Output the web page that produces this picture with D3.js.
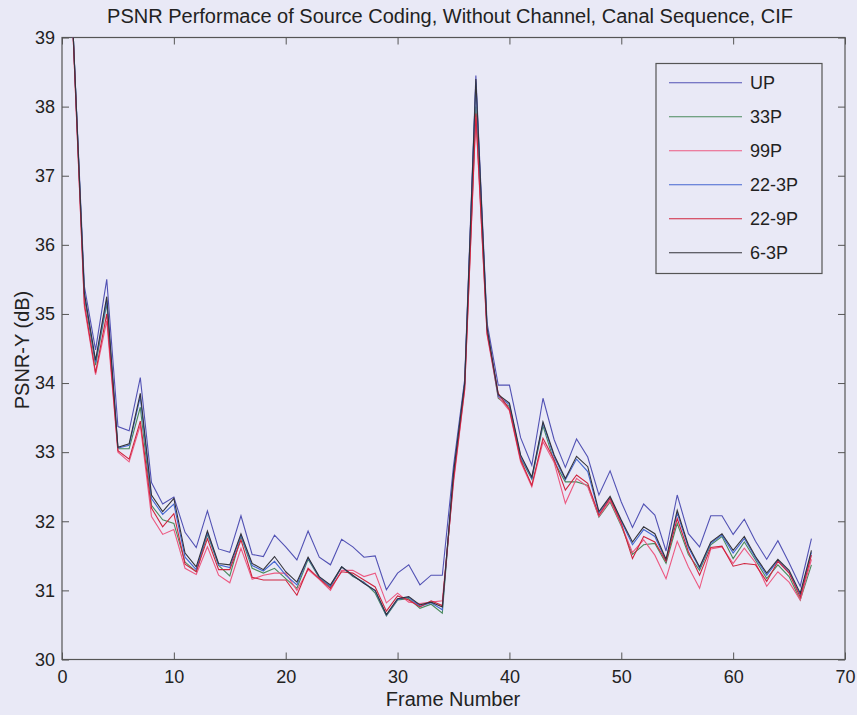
<!DOCTYPE html>
<html>
<head>
<meta charset="utf-8">
<script src="https://cdn.jsdelivr.net/npm/d3@7"></script>
<style>
  body { margin: 0; background: #e9e9f6; }
  svg { font-family: "Liberation Sans", Arial, sans-serif; }
  .tick text { font-size: 18px; fill: #222; }
  .tick line { stroke: #555; }
</style>
</head>
<body>
<svg></svg>
<script>
// chart size
const width = 857;
const height = 715;

// frames 1..67
const frames = d3.range(1, 68);

// PSNR-Y values, one array per coding scheme
const UP = [39.05, 35.4, 34.48, 35.5, 33.37, 33.31, 34.08, 32.56, 32.25, 32.35,
  31.84, 31.62, 32.15, 31.6, 31.55, 32.08, 31.52, 31.49, 31.8, 31.63,
  31.44, 31.86, 31.48, 31.37, 31.74, 31.63, 31.48, 31.5, 31.01, 31.25,
  31.37, 31.08, 31.22, 31.22, 32.8, 34.05, 38.45, 34.87, 33.97, 33.97,
  33.21, 32.81, 33.78, 33.18, 32.78, 33.19, 32.93, 32.38, 32.73, 32.28,
  31.91, 32.25, 32.09, 31.57, 32.38, 31.82, 31.63, 32.08, 32.08, 31.81,
  32.03, 31.71, 31.45, 31.72, 31.4, 31.06, 31.75];
const P33 = [39.05, 35.25, 34.26, 35.15, 33.05, 33.05, 33.65, 32.23, 32.02, 31.97,
  31.41, 31.27, 31.81, 31.36, 31.21, 31.78, 31.32, 31.25, 31.32, 31.17,
  31.03, 31.45, 31.18, 31.05, 31.34, 31.2, 31.12, 30.96, 30.63, 30.86,
  30.88, 30.74, 30.8, 30.67, 32.68, 33.98, 38.0, 34.77, 33.78, 33.66,
  32.91, 32.61, 33.38, 32.86, 32.57, 32.57, 32.52, 32.06, 32.28, 31.93,
  31.52, 31.66, 31.68, 31.39, 31.97, 31.52, 31.29, 31.66, 31.78, 31.46,
  31.7, 31.44, 31.17, 31.37, 31.2, 30.86, 31.37];
const P99 = [39.0, 35.1, 34.12, 34.9, 33.0, 32.86, 33.39, 32.07, 31.81, 31.88,
  31.32, 31.23, 31.63, 31.22, 31.11, 31.61, 31.16, 31.22, 31.25, 31.25,
  31.0, 31.3, 31.16, 31.0, 31.29, 31.29, 31.2, 31.25, 30.82, 30.96,
  30.83, 30.81, 30.83, 30.85, 32.55, 33.9, 37.85, 34.7, 33.8, 33.6,
  32.86, 32.5, 33.15, 32.85, 32.26, 32.62, 32.5, 32.07, 32.3, 31.95,
  31.55, 31.73, 31.51, 31.17, 31.71, 31.34, 31.03, 31.6, 31.63, 31.39,
  31.61, 31.4, 31.06, 31.27, 31.12, 30.86, 31.45];
const P22_3 = [39.05, 35.28, 34.3, 35.2, 33.06, 33.1, 33.8, 32.33, 32.1, 32.25,
  31.48, 31.3, 31.84, 31.37, 31.33, 31.8, 31.36, 31.28, 31.42, 31.22,
  31.08, 31.47, 31.19, 31.06, 31.34, 31.21, 31.11, 30.99, 30.64, 30.87,
  30.9, 30.77, 30.82, 30.72, 32.69, 33.99, 38.35, 34.78, 33.81, 33.69,
  32.94, 32.62, 33.42, 32.93, 32.6, 32.9, 32.72, 32.12, 32.34, 32.0,
  31.66, 31.88, 31.78, 31.43, 32.12, 31.62, 31.32, 31.68, 31.8, 31.54,
  31.75, 31.47, 31.22, 31.43, 31.27, 30.93, 31.55];
const P22_9 = [39.0, 35.15, 34.15, 35.0, 33.02, 32.9, 33.45, 32.19, 31.92, 32.11,
  31.38, 31.27, 31.75, 31.3, 31.3, 31.73, 31.19, 31.15, 31.15, 31.15,
  30.93, 31.32, 31.17, 31.03, 31.27, 31.25, 31.15, 31.05, 30.7, 30.92,
  30.86, 30.76, 30.85, 30.78, 32.6, 33.92, 37.9, 34.72, 33.85, 33.62,
  32.89, 32.52, 33.2, 32.89, 32.45, 32.67, 32.55, 32.09, 32.33, 31.97,
  31.46, 31.78, 31.7, 31.42, 32.04, 31.56, 31.22, 31.62, 31.64, 31.35,
  31.39, 31.37, 31.13, 31.42, 31.25, 30.9, 31.51];
const P6_3 = [39.05, 35.3, 34.33, 35.25, 33.07, 33.12, 33.85, 32.38, 32.14, 32.33,
  31.54, 31.34, 31.86, 31.39, 31.37, 31.82, 31.39, 31.3, 31.49, 31.27,
  31.12, 31.48, 31.2, 31.08, 31.34, 31.22, 31.1, 31.0, 30.65, 30.88,
  30.91, 30.79, 30.83, 30.76, 32.7, 34.0, 38.4, 34.8, 33.83, 33.71,
  32.96, 32.64, 33.44, 32.96, 32.62, 32.94, 32.79, 32.14, 32.36, 32.02,
  31.7, 31.92, 31.82, 31.45, 32.16, 31.65, 31.34, 31.7, 31.82, 31.58,
  31.78, 31.49, 31.25, 31.45, 31.29, 30.96, 31.58];

const names = ['UP', '33P', '99P', '22-3P', '22-9P', '6-3P'];
const values = [UP, P33, P99, P22_3, P22_9, P6_3];
const colors = ['#5252b4', '#4a8a5c', '#ec5a82', '#4466d0', '#d0243e', '#33333a'];

const xTicks = d3.range(0, 71, 10);
const yTicks = d3.range(30, 40, 1);

// plot area
const plotL = 62, plotR = 845, plotT = 37.5, plotB = 659.5;

const svg = d3.select('svg')
  .attr('width', width)
  .attr('height', height);

const x = d3.scaleLinear().domain([0, 70]).range([plotL, plotR]);
const y = d3.scaleLinear().domain([30, 39]).range([plotB, plotT]);

svg.append('defs').append('clipPath')
    .attr('id', 'plot-clip')
  .append('rect')
    .attr('x', plotL)
    .attr('y', plotT)
    .attr('width', plotR - plotL)
    .attr('height', plotB - plotT);

// axes, ticks pointing inward like matlab
const tick = 7;
svg.append('g')
    .attr('transform', `translate(0,${plotB})`)
    .call(d3.axisBottom(x).tickValues(xTicks).tickSizeInner(-tick).tickSizeOuter(0).tickPadding(11))
    .call((g) => g.select('.domain').remove());
svg.append('g')
    .attr('transform', `translate(0,${plotT})`)
    .call(d3.axisTop(x).tickValues(xTicks).tickSizeInner(-tick).tickSizeOuter(0).tickFormat(''))
    .call((g) => g.select('.domain').remove());
svg.append('g')
    .attr('transform', `translate(${plotL},0)`)
    .call(d3.axisLeft(y).tickValues(yTicks).tickSizeInner(-tick).tickSizeOuter(0).tickPadding(7))
    .call((g) => g.select('.domain').remove());
svg.append('g')
    .attr('transform', `translate(${plotR},0)`)
    .call(d3.axisRight(y).tickValues(yTicks).tickSizeInner(-tick).tickSizeOuter(0).tickFormat(''))
    .call((g) => g.select('.domain').remove());

svg.append('rect')
    .attr('x', plotL)
    .attr('y', plotT)
    .attr('width', plotR - plotL)
    .attr('height', plotB - plotT)
    .attr('fill', 'none')
    .attr('stroke', '#555')
    .attr('stroke-width', 1.2);

// series lines
const line = d3.line()
  .x((d, i) => x(frames[i]))
  .y((d) => y(d));

svg.append('g')
    .attr('clip-path', 'url(#plot-clip)')
  .selectAll('path')
  .data(values)
  .join('path')
    .attr('d', line)
    .attr('fill', 'none')
    .attr('stroke', (d, i) => colors[i])
    .attr('stroke-width', 1.1)
    .attr('stroke-linejoin', 'miter');

// title and axis labels
svg.append('text')
    .attr('x', 450)
    .attr('y', 23)
    .attr('text-anchor', 'middle')
    .style('font-size', '20px')
    .attr('fill', '#222')
    .text('PSNR Performace of Source Coding, Without Channel, Canal Sequence, CIF');

svg.append('text')
    .attr('x', 453)
    .attr('y', 706)
    .attr('text-anchor', 'middle')
    .style('font-size', '20px')
    .attr('fill', '#222')
    .text('Frame Number');

svg.append('text')
    .attr('transform', 'translate(29,350) rotate(-90)')
    .attr('text-anchor', 'middle')
    .style('font-size', '20px')
    .attr('fill', '#222')
    .text('PSNR-Y (dB)');

// legend
const legend = svg.append('g');
legend.append('rect')
    .attr('x', 656)
    .attr('y', 63.5)
    .attr('width', 166)
    .attr('height', 210)
    .attr('fill', '#e9e9f6')
    .attr('stroke', '#555')
    .attr('stroke-width', 1.2);

const row = legend.selectAll('g')
  .data(names)
  .join('g')
    .attr('transform', (d, i) => `translate(0,${82.7 + i * 34})`);
row.append('line')
    .attr('x1', 669)
    .attr('x2', 742)
    .attr('stroke', (d, i) => colors[i])
    .attr('stroke-width', 1.1);
row.append('text')
    .attr('x', 750)
    .attr('y', 6.5)
    .style('font-size', '18px')
    .attr('fill', '#222')
    .text((d) => d);
</script>
</body>
</html>
